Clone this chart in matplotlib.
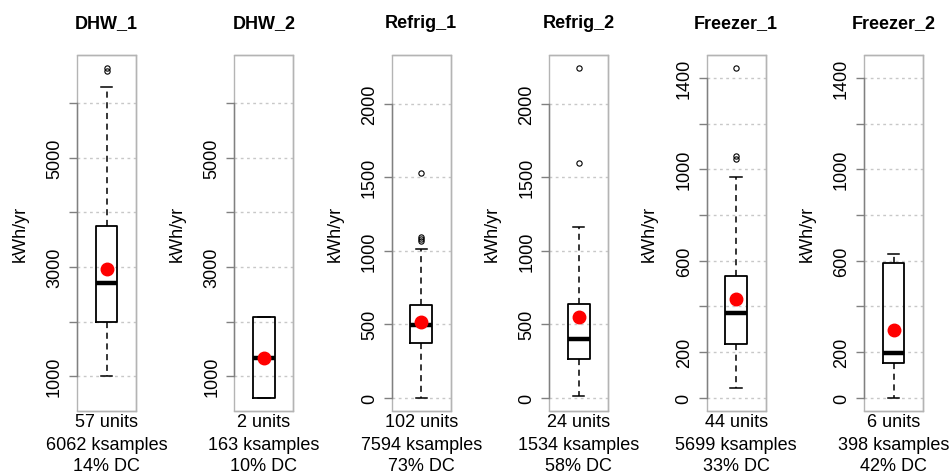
import matplotlib
matplotlib.use("Agg")
import matplotlib.pyplot as plt
from matplotlib.patches import Rectangle

plt.rcParams['font.family'] = ['Liberation Sans', 'DejaVu Sans']

# appliance groups
names = ['DHW_1', 'DHW_2', 'Refrig_1', 'Refrig_2', 'Freezer_1', 'Freezer_2']
units = [57, 2, 102, 24, 44, 6]
ksamples = [6062, 163, 7594, 1534, 5699, 398]
duty = [14, 10, 73, 58, 33, 42]

whislo = [1000, 604, 0, 9, 41, 0]
q1 = [1996, 604, 371, 267, 234, 153]
med = [2711, 1342, 498, 398, 371, 195]
q3 = [3747, 2075, 629, 639, 533, 590]
whishi = [6288, 2075, 1010, 1164, 964, 631]
means = [2960, 1342, 516, 550, 434, 295]
fliers = [[6580, 6640], [], [1065, 1080, 1095, 1531], [1599, 2242],
          [1046, 1060, 1442], []]

# pairs share a y scale
pairs = [(0, 1), (2, 3), (4, 5)]
ticks = [[1000, 2000, 3000, 4000, 5000, 6000],
         [0, 500, 1000, 1500, 2000],
         [0, 200, 400, 600, 800, 1000, 1200, 1400]]
ticklabels = [['1000', '', '3000', '', '5000', ''],
              ['0', '500', '1000', '1500', '2000'],
              ['0', '200', '', '600', '', '1000', '', '1400']]

W, H = 951, 477
fig = plt.figure(figsize=(W / 100, H / 100), dpi=100)

box_w = 59
top, bot = 56, 412

for i, name in enumerate(names):
    left = 77 + 157.4 * i
    ax = fig.add_axes([left / W, 1 - bot / H, box_w / W, (bot - top) / H])
    p = i // 2
    lo = min([whislo[j] for j in pairs[p]] + [v for j in pairs[p] for v in fliers[j]])
    hi = max([whishi[j] for j in pairs[p]] + [v for j in pairs[p] for v in fliers[j]])
    r = hi - lo

    for t in ticks[p]:
        ax.axhline(t, color='#c8c8c8', lw=1, ls=(0, (2, 2.5)), zorder=0)

    stats = [dict(med=med[i], q1=q1[i], q3=q3[i], whislo=whislo[i],
                  whishi=whishi[i], fliers=fliers[i], mean=means[i])]
    ax.bxp(stats, positions=[1], widths=0.37, capwidths=0.19,
           showmeans=False,
           boxprops=dict(color='black', lw=1.3),
           medianprops=dict(color='black', lw=3.2, solid_capstyle='butt'),
           whiskerprops=dict(color='black', lw=1.1, ls=(0, (4, 3))),
           capprops=dict(color='black', lw=1.1),
           flierprops=dict(marker='o', markersize=3.8, markerfacecolor='none',
                           markeredgecolor='black', markeredgewidth=0.8))
    ax.plot([1], [means[i]], 'o', color='red', markersize=9, zorder=5)

    ax.set_xlim(0.5, 1.5)
    ax.set_ylim(lo - 0.04 * r, hi + 0.04 * r)
    ax.set_xticks([])
    ax.set_yticks(ticks[p])
    ax.set_yticklabels(ticklabels[p], rotation=90, va='center', fontsize=13)
    ax.tick_params(axis='y', length=6, width=1, color='#808080', pad=4)

    for s in ax.spines.values():
        s.set_color('#b4b4b4')
        s.set_linewidth(1)
    ax.spines['left'].set_bounds(ticks[p][0], ticks[p][-1])
    ax.spines['left'].set_color('#808080')
    ax.add_patch(Rectangle((0, 0), 1, 1, transform=ax.transAxes, fill=False,
                           ec='#b4b4b4', lw=1, zorder=0.5, clip_on=False))

    cx = (left + box_w / 2) / W
    fig.text(cx, 1 - 24 / H, name, ha='center', va='center',
             fontsize=13, fontweight='bold')
    fig.text((left - 57) / W, 1 - 234 / H, 'kWh/yr', rotation=90,
             ha='center', va='center', fontsize=13)
    lines = ['%d units' % units[i], '%d ksamples' % ksamples[i], '%d%% DC' % duty[i]]
    for k, txt in enumerate(lines):
        fig.text(cx, 1 - (423 + 22 * k) / H, txt, ha='center', va='center',
                 fontsize=13)

fig.savefig('out.png', dpi=100)
